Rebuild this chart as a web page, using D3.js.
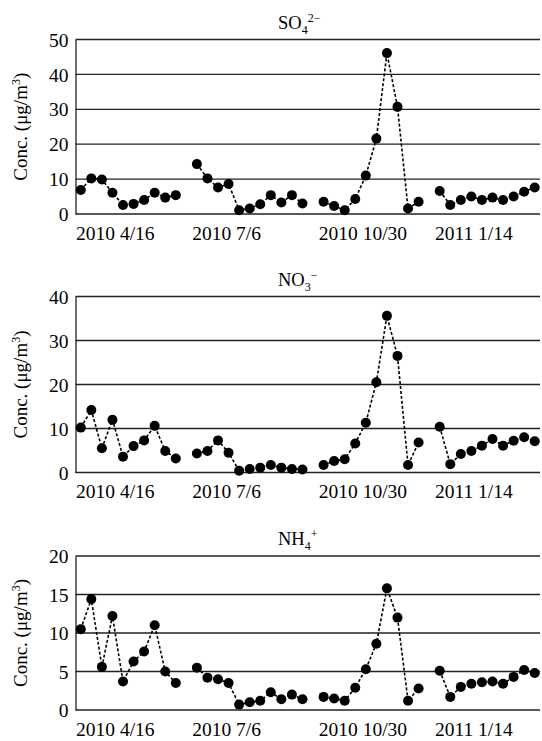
<!DOCTYPE html>
<html><head><meta charset="utf-8">
<script src="https://cdn.jsdelivr.net/npm/d3@7"></script>
<style>
body{margin:0;background:#fff;}
text{font-family:"Liberation Serif","Times New Roman",serif;fill:#000;}
</style></head>
<body><svg id="c" width="542" height="741"></svg>
<script>
// sample index 0..43; null = gap between sampling campaigns
const so4 = [6.9,10.2,9.9,6.1,2.6,2.9,4.0,6.1,4.7,5.4, null,
  14.3,10.2,7.6,8.6,1.1,1.6,2.8,5.4,3.3,5.4,3.0, null,
  3.5,2.3,1.1,4.3,11.0,21.6,46.1,30.7,1.6,3.5, null,
  6.6,2.6,4.0,5.0,4.0,4.7,4.0,5.0,6.4,7.6];
const no3 = [10.2,14.2,5.5,12.0,3.6,6.0,7.3,10.6,4.9,3.2, null,
  4.3,4.9,7.3,4.5,0.4,0.8,1.1,1.7,1.1,0.8,0.7, null,
  1.7,2.6,3.0,6.6,11.3,20.5,35.6,26.5,1.7,6.8, null,
  10.4,1.9,4.2,4.9,6.1,7.6,6.1,7.2,8.0,7.1];
const nh4 = [10.5,14.4,5.6,12.2,3.7,6.3,7.6,11.0,5.0,3.5, null,
  5.5,4.2,4.0,3.5,0.7,1.0,1.2,2.3,1.4,2.0,1.4, null,
  1.7,1.5,1.2,2.9,5.3,8.6,15.8,12.0,1.2,2.8, null,
  5.1,1.7,3.0,3.4,3.6,3.7,3.4,4.3,5.2,4.8];
const xTickLabels = ["2010 4/16","2010 7/6","2010 10/30","2011 1/14"];
const xTickIndex = [-0.5, 10.5, 22.5, 33.5];
const titles = [["SO","4","2−"],["NO","3","−"],["NH","4","+"]];
const yMax = [50, 40, 20];
const yStep = [10, 10, 5];

const svg = d3.select("#c");
const left = 75.5, right = 540;
const x = d3.scaleLinear().domain([-0.5, 43.5]).range([left, right]);
const layout = [{top:39.5,bottom:214},{top:296.5,bottom:472.5},{top:556,bottom:710}];
const series = [so4, no3, nh4];

series.forEach((vals, i) => {
  const L = layout[i];
  const y = d3.scaleLinear().domain([0, yMax[i]]).range([L.bottom, L.top]);
  const g = svg.append("g");
  const ticks = d3.range(0, yMax[i] + 0.001, yStep[i]);
  g.selectAll("line.grid").data(ticks).join("line")
    .attr("x1", left).attr("x2", right)
    .attr("y1", d => y(d)).attr("y2", d => y(d))
    .attr("stroke", "#222").attr("stroke-width", 1.3);
  const ya = g.append("g").attr("transform", `translate(${left},0)`)
    .call(d3.axisLeft(y).tickValues(ticks).tickSize(0).tickPadding(7));
  ya.select(".domain").attr("stroke", "#222").attr("stroke-width", 1.3);
  ya.selectAll("text").style("font-size", "19.5px").style("font-family", "Liberation Serif").attr("dy", "0.34em");
  const xa = g.append("g").attr("transform", `translate(0,${L.bottom})`)
    .call(d3.axisBottom(x).tickValues(xTickIndex).tickFormat((d, k) => xTickLabels[k]).tickSize(0).tickPadding(0));
  xa.select(".domain").remove();
  xa.selectAll("text").style("font-size", "19.5px").style("font-family", "Liberation Serif")
    .attr("text-anchor", "start").attr("dy", "0").attr("y", 25.5);
  g.append("text").attr("transform", `translate(27,${(L.top + L.bottom) / 2}) rotate(-90)`)
    .attr("text-anchor", "middle").style("font-size", "19px")
    .html('Conc. (μg/m<tspan dy="-7" font-size="12">3</tspan><tspan dy="7">)</tspan>');
  const t = titles[i];
  g.append("text").attr("x", 278).attr("y", L.top - 11).style("font-size", "18.5px")
    .html(`${t[0]}<tspan dy="5" font-size="12">${t[1]}</tspan><tspan dy="-12" font-size="12">${t[2]}</tspan>`);
  const line = d3.line().defined(d => d != null).x((d, k) => x(k)).y(d => y(d));
  g.append("path").datum(vals).attr("d", line).attr("fill", "none")
    .attr("stroke", "#000").attr("stroke-width", 1.6).attr("stroke-dasharray", "3,2");
  g.selectAll("circle").data(vals.map((v, k) => ({v, k})).filter(d => d.v != null)).join("circle")
    .attr("cx", d => x(d.k)).attr("cy", d => y(d.v)).attr("r", 5).attr("fill", "#000");
});
</script></body></html>
